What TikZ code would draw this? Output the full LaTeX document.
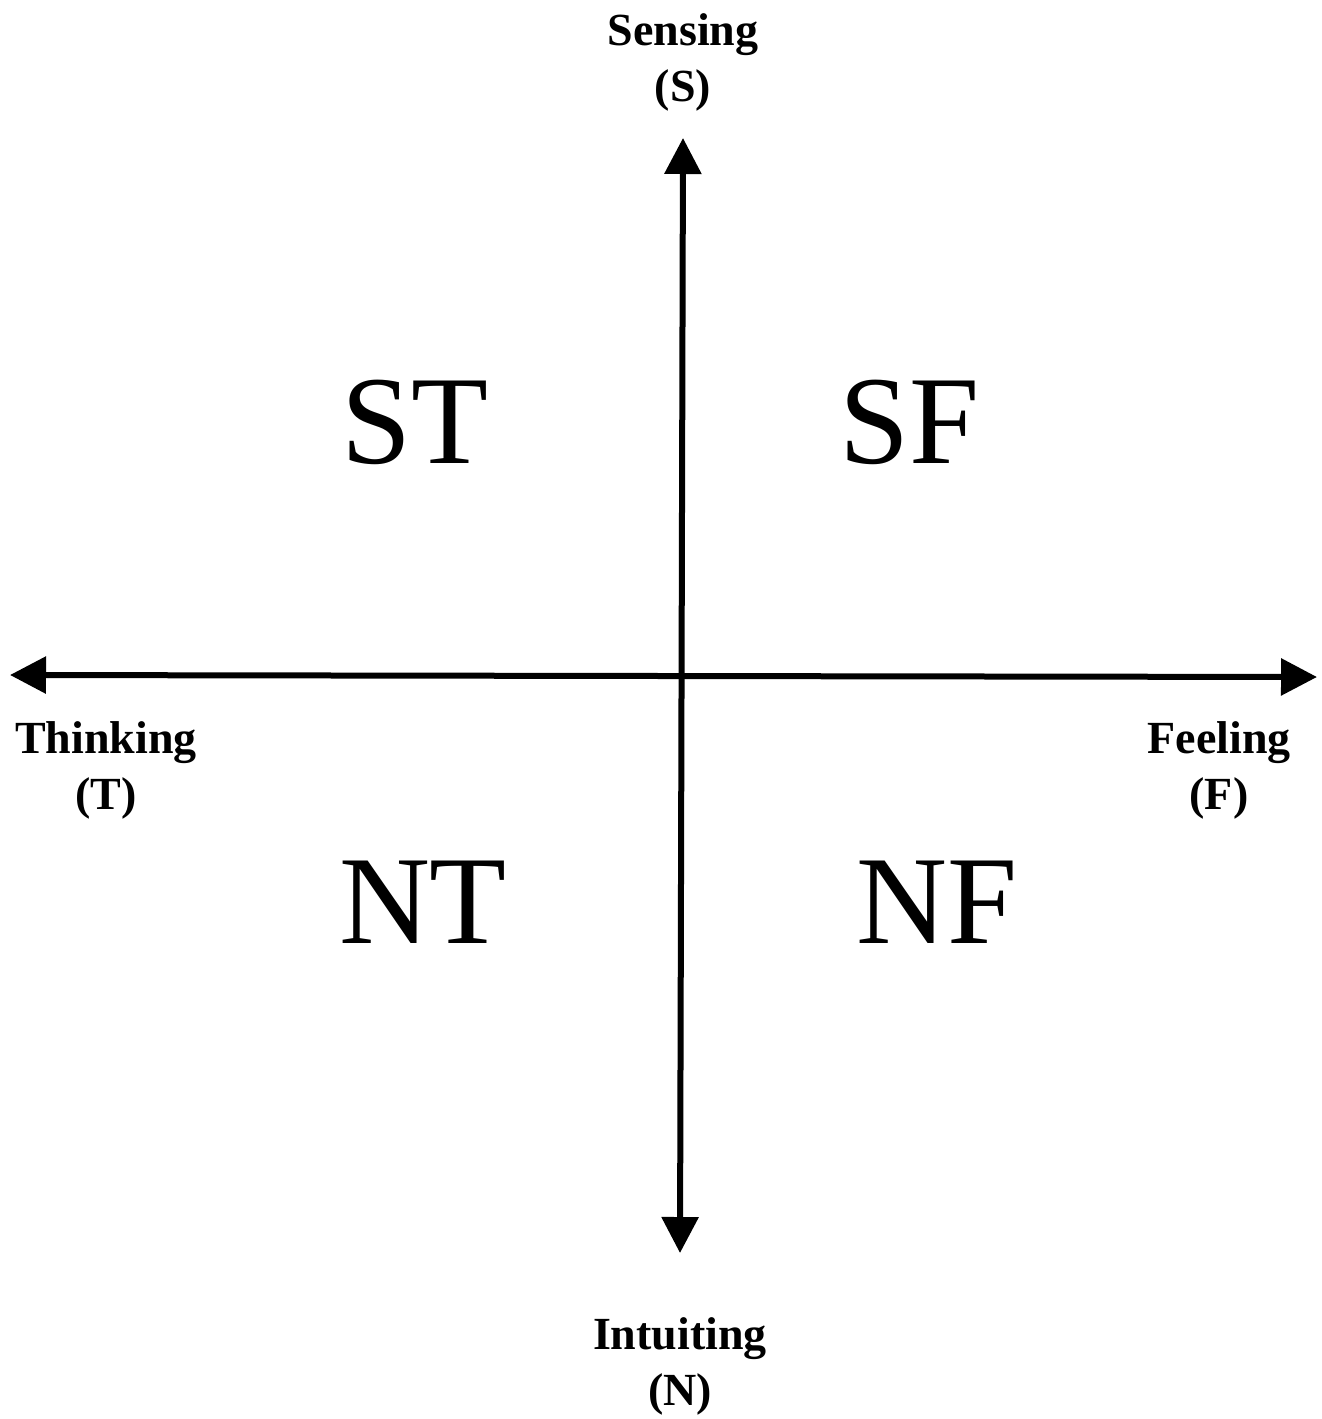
\documentclass[tikz,border=0pt]{standalone}
\usepackage{fontspec}
\setmainfont{Liberation Serif}
\usetikzlibrary{arrows.meta}
\tikzset{
  axis/.style={line width=6pt, {Triangle[length=36pt,width=36pt]}-{Triangle[length=36pt,width=36pt]}},
  pole/.style={font=\bfseries\fontsize{46}{56}\selectfont, align=center, inner sep=0pt},
  quad/.style={font=\fontsize{126}{126}\selectfont, inner sep=0pt},
}
\begin{document}
\begin{tikzpicture}[x=1pt,y=-1pt]
\useasboundingbox (0,0) rectangle (1322,1419);
\coordinate (Stip) at (683,138);
\coordinate (Ntip) at (680,1253);
\coordinate (Ttip) at (10,675);
\coordinate (Ftip) at (1317,677);
\draw[axis] (Stip) -- (Ntip);
\draw[axis] (Ttip) -- (Ftip);
\node[pole] (S) at (683,62) {Sensing\\(S)};
\node[pole] (T) at (106,770) {Thinking\\(T)};
\node[pole] (F) at (1219,770) {Feeling\\(F)};
\node[pole] (N) at (680,1366) {Intuiting\\(N)};
\node[quad] (ST) at (415,422) {ST};
\node[quad] (SF) at (910,422) {SF};
\node[quad] (NT) at (423,902) {NT};
\node[quad] (NF) at (937,902) {NF};
\end{tikzpicture}
\end{document}
